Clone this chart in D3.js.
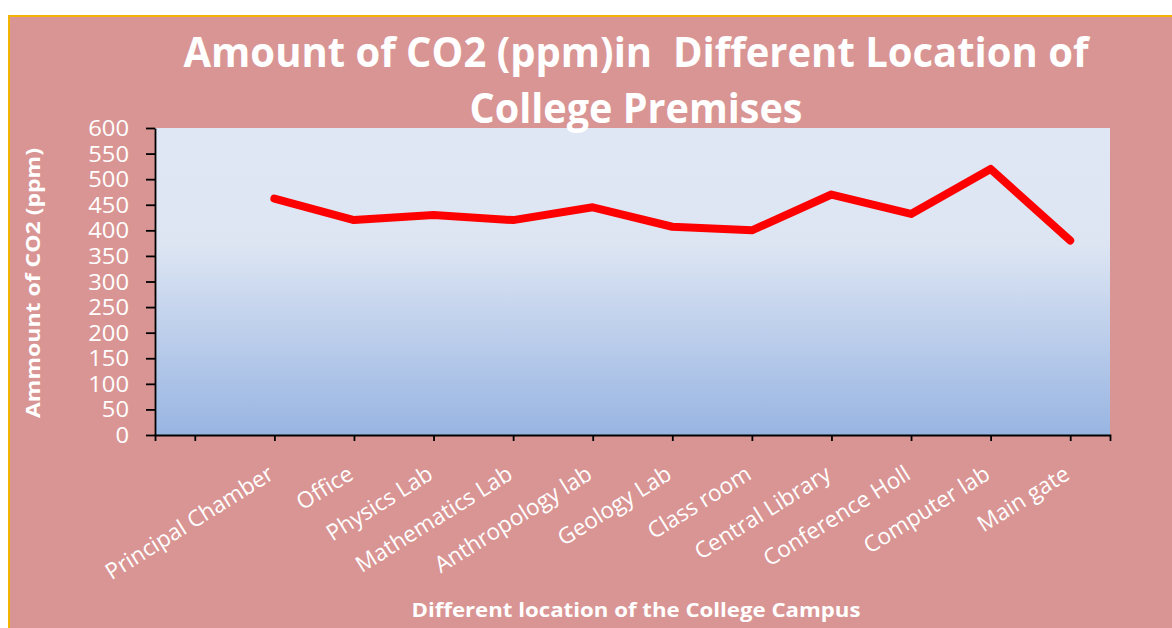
<!DOCTYPE html>
<html>
<head>
<meta charset="utf-8">
<script src="https://cdn.jsdelivr.net/npm/d3@7"></script>
<style>
  html, body { margin: 0; padding: 0; background: #ffffff; }
  svg text { font-family: "Open Sans", "DejaVu Sans", sans-serif; }
</style>
</head>
<body>
<svg id="chart" width="1172" height="628"></svg>
<script>
const categories = ["Principal Chamber", "Office", "Physics Lab", "Mathematics Lab", "Anthropology lab",
  "Geology Lab", "Class room", "Central Library", "Conference Holl", "Computer lab", "Main gate"];
const co2Values = [462, 420, 430, 420, 445, 407, 400, 470, 432, 520, 380];
const yTicks = [0, 50, 100, 150, 200, 250, 300, 350, 400, 450, 500, 550, 600];
const titleLines = ["Amount of CO2 (ppm)in  Different Location of", "College Premises"];
const xAxisTitle = "Different location of the College Campus";
const yAxisTitle = "Ammount of CO2 (ppm)";

const svg = d3.select("#chart");
const W = 1172, H = 628;
const plot = { left: 155, right: 1110, top: 128, bottom: 435 };

// chart area background with gold border (top & left visible)
svg.append("rect").attr("x", 9).attr("y", 16).attr("width", W + 10).attr("height", H + 10)
  .attr("fill", "#d99594").attr("stroke", "#f2b400").attr("stroke-width", 2);

// gradient for plot area
const defs = svg.append("defs");
const grad = defs.append("linearGradient").attr("id", "plotGrad")
  .attr("x1", 0).attr("y1", 0).attr("x2", 0).attr("y2", 1);
grad.append("stop").attr("offset", "0%").attr("stop-color", "#e0e7f4");
grad.append("stop").attr("offset", "38%").attr("stop-color", "#dde5f3");
grad.append("stop").attr("offset", "100%").attr("stop-color", "#98b5e2");

svg.append("rect").attr("x", plot.left).attr("y", plot.top)
  .attr("width", plot.right - plot.left).attr("height", plot.bottom - plot.top)
  .attr("fill", "url(#plotGrad)");

// scales
const x = d3.scalePoint().domain([" "].concat(categories)).range([plot.left, plot.right]).padding(0.5);
const y = d3.scaleLinear().domain([0, 600]).range([plot.bottom, plot.top]);

// y axis
const yAxis = svg.append("g").attr("transform", `translate(${plot.left},0)`)
  .call(d3.axisLeft(y).tickValues(yTicks).tickSize(9).tickSizeOuter(0).tickPadding(17));
yAxis.select(".domain").attr("stroke", "#000").attr("stroke-width", 1.8);
yAxis.selectAll(".tick line").attr("stroke", "#000").attr("stroke-width", 1.8);
yAxis.selectAll(".tick text").attr("fill", "#ffffff").style("font-size", "21px")
  .style("font-family", "'Open Sans', sans-serif").attr("dy", "0.36em")
  .attr("textLength", d => String(d).length * 13.6).attr("lengthAdjust", "spacingAndGlyphs");

// x axis
const xAxis = svg.append("g").attr("transform", `translate(0,${plot.bottom})`)
  .call(d3.axisBottom(x).tickSize(6).tickSizeOuter(6).tickFormat(""));
xAxis.select(".domain").attr("stroke", "#000").attr("stroke-width", 1.8);
xAxis.selectAll(".tick line").attr("stroke", "#000").attr("stroke-width", 1.8);

// rotated category labels
svg.append("g").selectAll("text").data(categories).join("text")
  .attr("transform", d => `translate(${x(d) + 1},${plot.bottom + 43}) rotate(-32)`)
  .attr("text-anchor", "end")
  .attr("fill", "#ffffff")
  .style("font-size", "22.5px")
  .text(d => d);

// line
const line = d3.line().x((d, i) => x(categories[i])).y(d => y(d));
svg.append("path").datum(co2Values).attr("d", line)
  .attr("fill", "none").attr("stroke", "#ff0000").attr("stroke-width", 8)
  .attr("stroke-linejoin", "round").attr("stroke-linecap", "round");

// title
svg.append("text").attr("x", 636).attr("y", 67).attr("text-anchor", "middle")
  .attr("fill", "#ffffff").style("font-size", "42px").style("font-weight", "bold")
  .style("white-space", "pre")
  .attr("textLength", 905).attr("lengthAdjust", "spacingAndGlyphs")
  .text(titleLines[0]);
svg.append("text").attr("x", 636).attr("y", 123).attr("text-anchor", "middle")
  .attr("fill", "#ffffff").style("font-size", "42px").style("font-weight", "bold")
  .attr("textLength", 333).attr("lengthAdjust", "spacingAndGlyphs")
  .text(titleLines[1]);

// axis titles
svg.append("text").attr("x", 636).attr("y", 617).attr("text-anchor", "middle")
  .attr("fill", "#ffffff").style("font-size", "19px").style("font-weight", "bold")
  .attr("textLength", 449).attr("lengthAdjust", "spacingAndGlyphs")
  .text(xAxisTitle);
svg.append("text").attr("transform", `translate(40,283) rotate(-90)`).attr("text-anchor", "middle")
  .attr("fill", "#ffffff").style("font-size", "20px").style("font-weight", "bold")
  .attr("textLength", 270).attr("lengthAdjust", "spacingAndGlyphs")
  .text(yAxisTitle);
</script>
</body>
</html>
